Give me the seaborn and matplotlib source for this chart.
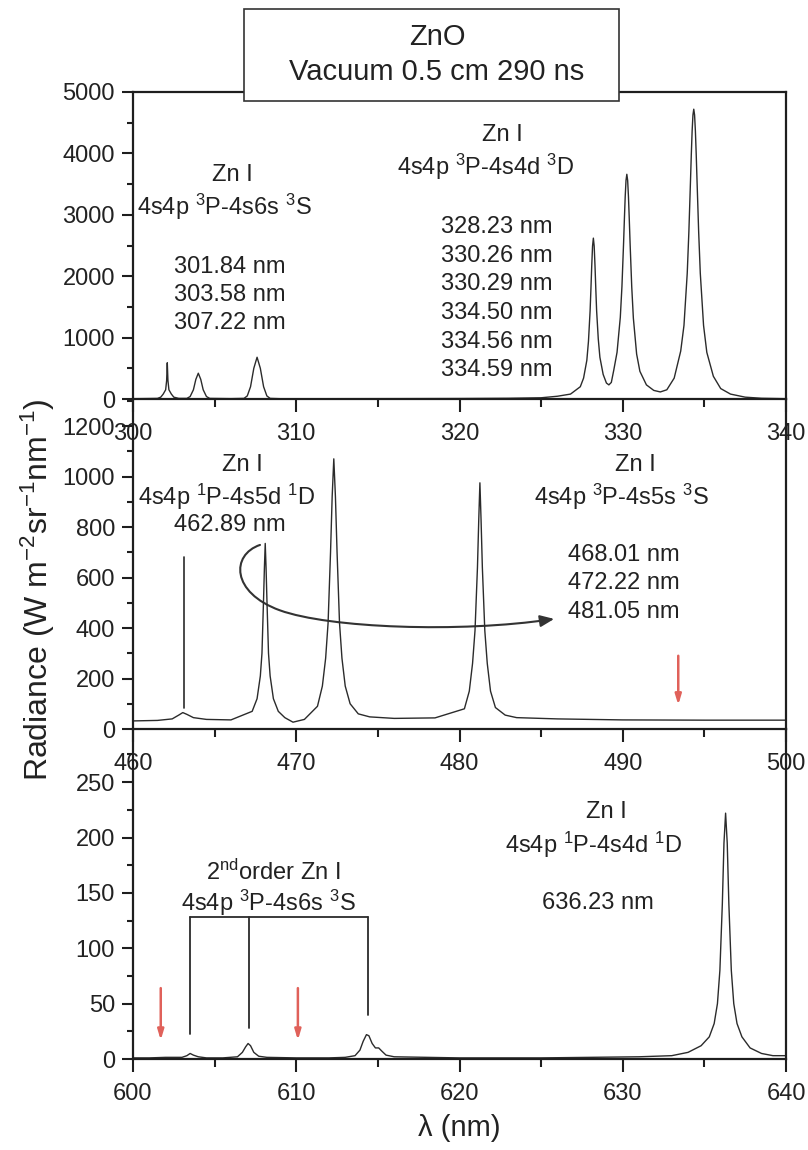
import numpy as np
import pandas as pd
import matplotlib
matplotlib.use("Agg")
import matplotlib.pyplot as plt
import seaborn as sns
from matplotlib.path import Path
from matplotlib.patches import FancyArrowPatch, Rectangle
from matplotlib.ticker import MultipleLocator

# ---------------- data ----------------
# Panel 1: 300-340 nm
wl1 = [300.0, 301.0, 301.5, 301.7, 301.85, 302.0, 302.06, 302.1, 302.14, 302.2, 302.35, 302.5,
       302.8, 303.3, 303.5, 303.7, 303.85, 304.0, 304.15, 304.3, 304.5, 304.7, 306.0, 306.8,
       307.0, 307.2, 307.4, 307.6, 307.8, 308.0, 308.2, 308.4, 309.0, 312.0, 316.0, 320.0,
       323.0, 325.0, 326.0, 326.8, 327.4, 327.6, 327.8, 327.9, 328.0, 328.05, 328.1, 328.15,
       328.2, 328.25, 328.3, 328.35, 328.4, 328.5, 328.6, 328.8, 329.0, 329.15, 329.3, 329.45,
       329.65, 329.85, 329.95, 330.05, 330.1, 330.15, 330.2, 330.25, 330.3, 330.35, 330.4, 330.45,
       330.55, 330.65, 330.85, 331.05, 331.45, 331.9, 332.3, 332.7, 333.15, 333.55, 333.75, 333.95,
       334.05, 334.15, 334.2, 334.25, 334.3, 334.35, 334.4, 334.45, 334.5, 334.55, 334.65, 334.75,
       334.95, 335.15, 335.55, 336.0, 336.6, 337.5, 338.5, 340.0]
rad1 = [5, 8, 10, 30, 80, 150, 300, 590, 300, 150, 80, 30,
        10, 10, 40, 150, 320, 420, 320, 150, 40, 10, 6, 10,
        50, 200, 500, 680, 500, 200, 50, 10, 5, 5, 6, 8,
        12, 20, 45, 80, 200, 340, 630, 940, 1435, 1788, 2171, 2490,
        2620, 2490, 2171, 1788, 1435, 980, 680, 400, 260, 230, 270, 470,
        760, 1330, 1830, 2534, 2928, 3294, 3561, 3660, 3561, 3294, 2928, 2534,
        1830, 1317, 732, 451, 230, 140, 115, 150, 340, 780, 1198, 2047,
        2721, 3557, 3987, 4364, 4626, 4720, 4626, 4364, 3987, 3557, 2721, 2047,
        1198, 759, 370, 170, 80, 30, 12, 5]

# Panel 2: 460-500 nm
wl2 = [460.0, 461.5, 462.4, 462.8, 463.05, 463.3, 463.7, 464.5, 466.0, 467.3, 467.6, 467.8,
       467.9, 468.0, 468.05, 468.1, 468.15, 468.2, 468.3, 468.4, 468.6, 468.9, 469.3, 469.8,
       470.5, 471.3, 471.6, 471.8, 471.95, 472.1, 472.2, 472.3, 472.4, 472.5, 472.65, 472.8,
       473.0, 473.3, 473.8, 474.5, 476.0, 478.5, 480.3, 480.6, 480.8, 480.95, 481.1, 481.18,
       481.25, 481.32, 481.4, 481.55, 481.7, 481.9, 482.2, 482.8, 483.5, 486.0, 490.0, 495.0,
       500.0]
rad2 = [32, 34, 40, 55, 65, 58, 45, 38, 36, 70, 120, 210,
        300, 520, 640, 735, 640, 520, 300, 210, 120, 70, 45, 27,
        38, 90, 170, 280, 420, 700, 920, 1070, 920, 700, 420, 280,
        170, 100, 60, 48, 42, 44, 80, 150, 260, 390, 640, 830,
        975, 830, 640, 390, 260, 150, 85, 55, 45, 40, 36, 35,
        35]

# Panel 3: 600-640 nm
wl3 = [600.0, 601.0, 602.0, 603.0, 603.3, 603.5, 603.7, 604.0, 604.5, 605.5, 606.4, 606.7,
       606.9, 607.05, 607.2, 607.4, 607.7, 608.2, 610.0, 612.0, 613.0, 613.6, 613.9, 614.1,
       614.3, 614.45, 614.65, 614.85, 615.05, 615.25, 615.5, 616.0, 618.0, 620.0, 625.0, 628.0,
       631.0, 633.0, 634.0, 634.8, 635.3, 635.6, 635.8, 635.95, 636.1, 636.2, 636.3, 636.4,
       636.5, 636.65, 636.8, 637.0, 637.3, 637.8, 638.5, 639.2, 640.0]
rad3 = [1, 1, 1.5, 1.5, 3, 5, 3.5, 2, 1, 1, 2, 6,
        11, 14, 12, 6, 2.5, 1.5, 1, 1, 1.5, 3, 8, 16,
        22, 21, 14, 10, 10, 7, 3.5, 2, 1.5, 1, 1, 1.5,
        2, 3, 6, 12, 20, 32, 50, 80, 140, 195, 222, 195,
        140, 80, 50, 32, 20, 10, 5, 3, 3]

# axis settings
xlims = [(300, 340), (460, 500), (600, 640)]
ylims = [(0, 5000), (0, 1307), (0, 298)]
ymajor = [1000, 200, 50]
yminor = [500, 100, 25]

# annotation texts: (x, y, text)
labels1 = [(306.1, 3650, "Zn I"), (305.6, 3130, "4s4p $^{3}$P-4s6s $^{3}$S"),
           (305.9, 2150, "301.84 nm"), (305.9, 1690, "303.58 nm"), (305.9, 1235, "307.22 nm"),
           (322.6, 4300, "Zn I"), (321.6, 3780, "4s4p $^{3}$P-4s4d $^{3}$D"),
           (322.3, 2800, "328.23 nm"), (322.3, 2330, "330.26 nm"), (322.3, 1870, "330.29 nm"),
           (322.3, 1400, "334.50 nm"), (322.3, 930, "334.56 nm"), (322.3, 470, "334.59 nm")]
labels2 = [(466.7, 1045, "Zn I"), (465.75, 919, "4s4p $^{1}$P-4s5d $^{1}$D"), (465.9, 808, "462.89 nm"),
           (490.8, 1045, "Zn I"), (489.9, 919, "4s4p $^{3}$P-4s5s $^{3}$S"),
           (490.05, 689, "468.01 nm"), (490.05, 578, "472.22 nm"), (490.05, 463, "481.05 nm")]
labels3 = [(629.0, 223, "Zn I"), (628.2, 193, "4s4p $^{1}$P-4s4d $^{1}$D"), (628.5, 141, "636.23 nm"),
           (608.6, 169, "2$^{nd}$order Zn I"), (608.3, 141, "4s4p $^{3}$P-4s6s $^{3}$S")]

# marker line for 462.89 nm (panel 2)
marker2_x = [463.1, 463.1]
marker2_y = [83, 681]
# bracket for 2nd order lines (panel 3)
bracket_x = [603.5, 607.1, 614.4]
bracket_bottom = [23, 28, 40]
bracket_top = 128
# red arrows: (x, y_start, y_end)
red_arrows2 = [(493.4, 290, 95)]
red_arrows3 = [(601.7, 64, 17), (610.1, 64, 17)]
# curved arrow (panel 2), Bezier control points
curve_pts = [(467.78, 729), (466.0, 690), (466.0, 540), (469.0, 470),
             (472.0, 400), (480.0, 380), (485.8, 436)]

# ---------------- plotting ----------------
sns.set_style("ticks")
plt.rcParams["font.family"] = ["Liberation Sans", "DejaVu Sans"]
plt.rcParams["mathtext.default"] = "regular"
plt.rcParams["axes.unicode_minus"] = False

W, H = 808, 1150
fig = plt.figure(figsize=(W / 100, H / 100), dpi=100)

def box(top_px, bot_px):
    return [133 / W, 1 - bot_px / H, (786 - 133) / W, (bot_px - top_px) / H]

ax1 = fig.add_axes(box(92, 399))
ax2 = fig.add_axes(box(399, 729))
ax3 = fig.add_axes(box(729, 1059))
axes = [ax1, ax2, ax3]

line_col = "#2b2b2b"
spine_col = "#1e1e1e"
tick_fs = 17
ann_fs = 17

datasets = [(wl1, rad1), (wl2, rad2), (wl3, rad3)]
for i, (ax, (wl, rad)) in enumerate(zip(axes, datasets)):
    ax.patch.set_alpha(0)
    df = pd.DataFrame({"wl": wl, "rad": rad})
    sns.lineplot(data=df, x="wl", y="rad", ax=ax, color=line_col, linewidth=1.0,
                 estimator=None, sort=True)
    ax.set_xlim(*xlims[i])
    ax.set_ylim(*ylims[i])
    ax.set_xlabel("")
    ax.set_ylabel("")
    ax.xaxis.set_major_locator(MultipleLocator(10))
    ax.xaxis.set_minor_locator(MultipleLocator(5))
    ax.yaxis.set_major_locator(MultipleLocator(ymajor[i]))
    ax.yaxis.set_minor_locator(MultipleLocator(yminor[i]))
    ax.tick_params(axis="x", which="major", direction="out", length=9.5, width=1.5,
                   labelsize=tick_fs, pad=8, colors=spine_col, labelcolor="#222222")
    ax.tick_params(axis="x", which="minor", direction="out", length=6, width=1.5, colors=spine_col)
    ax.tick_params(axis="y", which="major", direction="out", length=8, width=1.5,
                   labelsize=tick_fs, pad=5, colors=spine_col, labelcolor="#222222")
    ax.tick_params(axis="y", which="minor", direction="out", length=4, width=1.5, colors=spine_col)
    ax.tick_params(right=False, top=False, which="both")
    for s in ["left", "right", "bottom", "top"]:
        ax.spines[s].set_color(spine_col)
        ax.spines[s].set_linewidth(1.6)
    ax.spines["top"].set_visible(i == 0)
    ax.spines["right"].set_visible(True)

# annotations
for ax, labs in zip(axes, [labels1, labels2, labels3]):
    for x, y, t in labs:
        ax.text(x, y, t, ha="center", va="center", fontsize=ann_fs, color="#222222")

# marker line panel 2
ax2.plot(marker2_x, marker2_y, color=line_col, lw=1.2)

# bracket panel 3
ax3.plot([bracket_x[0], bracket_x[-1]], [bracket_top, bracket_top], color=line_col, lw=1.3)
for bx, bb in zip(bracket_x, bracket_bottom):
    ax3.plot([bx, bx], [bb, bracket_top], color=line_col, lw=1.3)

# red arrows
red = "#e0615a"
for ax, arrs in [(ax2, red_arrows2), (ax3, red_arrows3)]:
    for x, y0, y1 in arrs:
        ax.annotate("", xy=(x, y1), xytext=(x, y0),
                    arrowprops=dict(arrowstyle="-|>,head_length=0.6,head_width=0.18",
                                    color=red, lw=1.8, shrinkA=0, shrinkB=0))

# curved arrow panel 2
codes = [Path.MOVETO] + [Path.CURVE4] * 6
curve = Path(curve_pts, codes)
arr = FancyArrowPatch(path=curve, arrowstyle="-|>,head_length=0.6,head_width=0.25",
                      mutation_scale=14, color="#333333", lw=1.5,
                      transform=ax2.transData)
ax2.add_patch(arr)

# title box
rect = Rectangle((244 / W, 1 - 101 / H), (619 - 244) / W, (101 - 9) / H,
                 transform=fig.transFigure, facecolor="white", edgecolor="#333333",
                 lw=1.2, zorder=10)
fig.patches.append(rect)
fig.text(437 / W, 1 - 37 / H, "ZnO", ha="center", va="center", fontsize=21,
         color="#222222", zorder=11)
fig.text(437 / W, 1 - 72 / H, "Vacuum 0.5 cm 290 ns", ha="center", va="center",
         fontsize=21, color="#222222", zorder=11)

# axis labels
fig.text(38 / W, 1 - 590 / H, "Radiance (W m$^{-2}$sr$^{-1}$nm$^{-1}$)", rotation=90,
         ha="center", va="center", fontsize=23, color="#222222")
fig.text(459.5 / W, 1 - 1128 / H, "λ (nm)", ha="center", va="center", fontsize=21,
         color="#222222")

fig.savefig("out.png", dpi=100)
